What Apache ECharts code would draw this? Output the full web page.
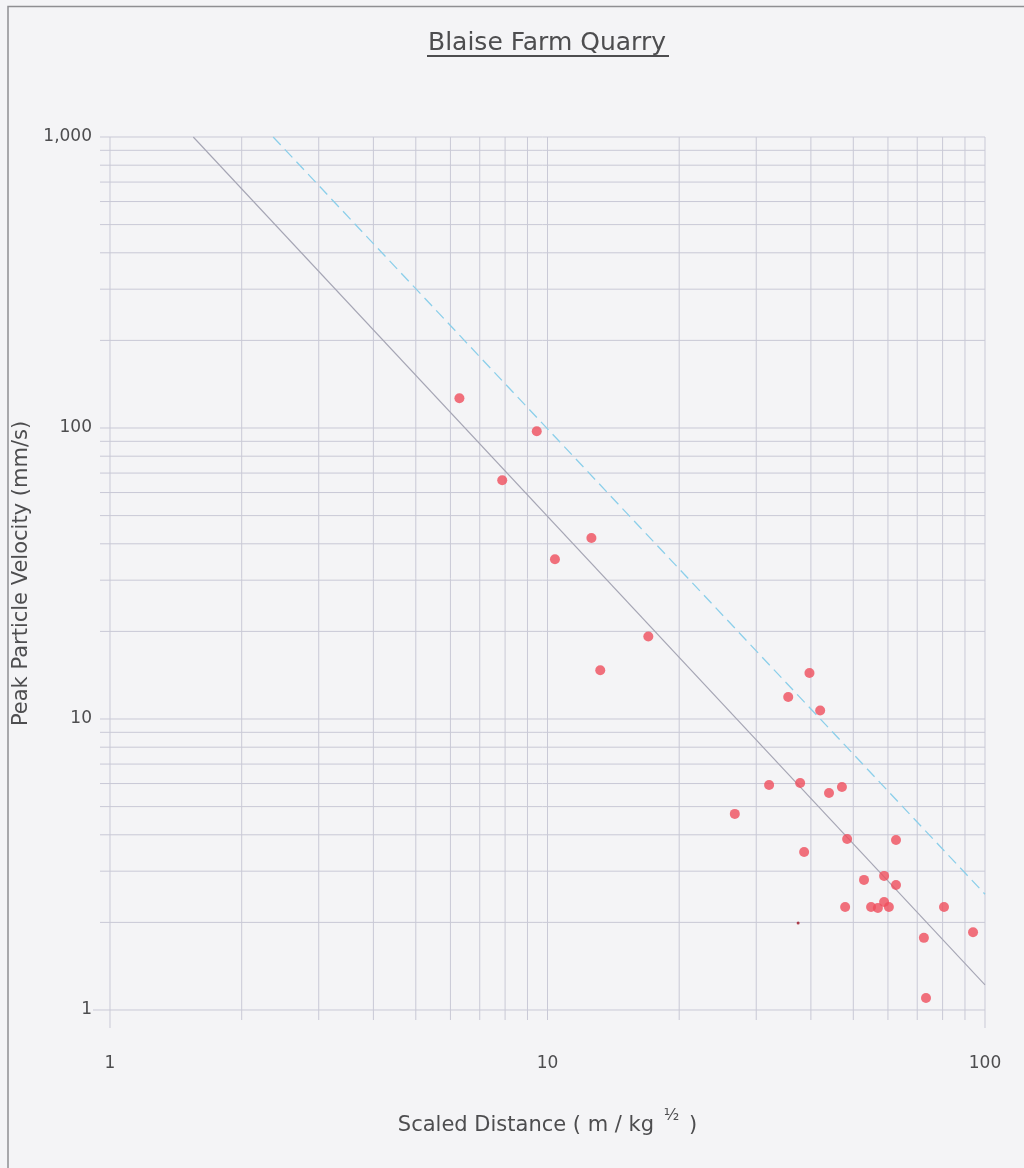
<!DOCTYPE html>
<html>
<head>
<meta charset="utf-8">
<script src="https://cdn.jsdelivr.net/npm/echarts@6/dist/echarts.min.js"></script>
<style>
html,body{margin:0;padding:0;background:#f4f4f6;}
#chart{width:1024px;height:1168px;}
</style>
</head>
<body>
<div id="chart"></div>
<script>
// ---- data ----
const scaledDistance = [6.29, 7.88, 9.45, 10.4, 12.6, 13.2, 17.0, 26.8, 32.1, 35.5, 37.8, 38.6, 39.7, 42.0, 44.0, 47.1, 47.9, 48.4, 52.9, 54.9, 56.9, 58.8, 58.8, 60.3, 62.6, 62.6, 72.5, 73.3, 80.6, 93.9];
const ppv = [126.5, 66.1, 97.4, 35.4, 41.9, 14.7, 19.2, 4.72, 5.93, 11.9, 6.03, 3.49, 14.4, 10.7, 5.57, 5.84, 2.26, 3.87, 2.80, 2.26, 2.24, 2.89, 2.35, 2.26, 3.84, 2.69, 1.77, 1.10, 2.26, 1.85];
const stray = [[37.4, 1.99]];
const meanLine = [[1.55, 1000], [100, 1.22]];
const upperLine = [[2.36, 1000], [100, 2.5]];
const xGridValues = [1,2,3,4,5,6,7,8,9,10,20,30,40,50,60,70,80,90,100];
const yGridValues = [1,2,3,4,5,6,7,8,9,10,20,30,40,50,60,70,80,90,100,200,300,400,500,600,700,800,900,1000];
const xTickLabels = ['1', '10', '100'];
const yTickLabels = ['1', '10', '100', '1,000'];
const titleText = 'Blaise Farm Quarry';

const X_MIN = 1, X_MAX = 100, Y_MIN = 1, Y_MAX = 1000;
const gridColor = '#c9c9d6';
const textColor = '#4d4d4f';
const font = 'DejaVu Sans';

const chart = echarts.init(document.getElementById('chart'), null, {renderer: 'canvas'});

function vGrid(params, api) {
  const v = api.value(0);
  const top = api.coord([v, Y_MAX]);
  const bot = api.coord([v, Y_MIN]);
  const ext = (v === X_MIN || v === X_MAX) ? 18 : 10;
  return {type: 'line', shape: {x1: top[0], y1: top[1], x2: bot[0], y2: bot[1] + ext},
          style: {stroke: gridColor, lineWidth: 1}, silent: true};
}
function hGrid(params, api) {
  const v = api.value(1);
  const l = api.coord([X_MIN, v]);
  const r = api.coord([X_MAX, v]);
  const ext = (v === Y_MIN) ? 17 : 10;
  return {type: 'line', shape: {x1: l[0] - ext, y1: l[1], x2: r[0], y2: r[1]},
          style: {stroke: gridColor, lineWidth: 1}, silent: true};
}

const option = {
  backgroundColor: '#f4f4f6',
  animation: false,
  title: {
    text: titleText, left: 428, top: 31, padding: 0,
    textStyle: {fontFamily: font, fontSize: 25, fontWeight: 'normal', color: textColor}
  },
  graphic: [
    {type: 'polyline', silent: true, shape: {points: [[8, 1168], [8, 6.5], [1024, 6.5]]},
     style: {stroke: '#8f8f92', lineWidth: 1.5, fill: null}},
    {type: 'line', silent: true, shape: {x1: 427, y1: 56, x2: 669, y2: 56},
     style: {stroke: textColor, lineWidth: 1.8}}
  ],
  grid: {left: 110, right: 39, top: 137, bottom: 158},
  xAxis: {
    type: 'log', logBase: 10, min: X_MIN, max: X_MAX,
    splitLine: {show: false}, axisLine: {show: false}, axisTick: {show: false},
    axisLabel: {
      margin: 45, fontFamily: font, fontSize: 17, color: textColor,
      formatter: function (v) { const i = Math.round(Math.log10(v)); return xTickLabels[i]; }
    },
    name: 'Scaled Distance ( m / kg {sup|½} )',
    nameLocation: 'middle', nameGap: 98,
    nameTextStyle: {
      fontFamily: font, fontSize: 21, color: textColor,
      rich: {sup: {fontFamily: font, fontSize: 16, color: textColor, padding: [0, 3, 20, 3]}}
    }
  },
  yAxis: {
    type: 'log', logBase: 10, min: Y_MIN, max: Y_MAX,
    splitLine: {show: false}, axisLine: {show: false}, axisTick: {show: false},
    axisLabel: {
      margin: 18, fontFamily: font, fontSize: 17, color: textColor,
      formatter: function (v) { const i = Math.round(Math.log10(v)); return yTickLabels[i]; }
    },
    name: 'Peak Particle Velocity (mm/s)',
    nameLocation: 'middle', nameGap: 63, nameRotate: 90,
    nameTextStyle: {fontFamily: font, fontSize: 21, color: textColor}
  },
  series: [
    {type: 'custom', renderItem: vGrid, data: xGridValues.map(v => [v, Y_MIN]), silent: true, z: 1},
    {type: 'custom', renderItem: hGrid, data: yGridValues.map(v => [X_MIN, v]), silent: true, z: 1},
    {type: 'line', data: meanLine, symbol: 'none', silent: true, z: 2,
     lineStyle: {color: '#a5a5b4', width: 1.1}},
    {type: 'line', data: upperLine, symbol: 'none', silent: true, z: 2,
     lineStyle: {color: '#8ccfea', width: 1.3, type: [11, 6]}},
    {type: 'scatter', data: scaledDistance.map((x, i) => [x, ppv[i]]), symbol: 'circle', symbolSize: 10,
     itemStyle: {color: '#ef4d5c'}, z: 3},
    {type: 'scatter', data: stray, symbol: 'circle', symbolSize: 3,
     itemStyle: {color: '#9b1222'}, z: 3}
  ]
};
chart.setOption(option);
</script>
</body>
</html>
